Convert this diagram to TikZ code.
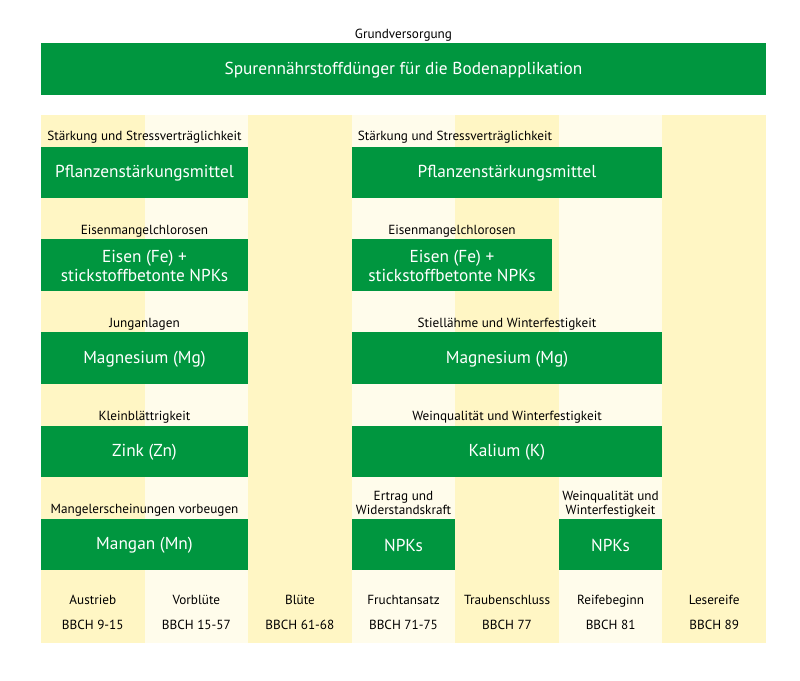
\documentclass[tikz,border=0pt]{standalone}
\usepackage{fontspec}
\setmainfont{PT Sans}
\definecolor{gr}{HTML}{00963F}
\definecolor{ye}{HTML}{FFF6C4}
\definecolor{lt}{HTML}{FFFCEB}
\begin{document}
\begin{tikzpicture}[x=1pt,y=-1pt,
  box/.style={fill=gr,draw=none,text=white,font=\fontsize{17.3}{19.5}\selectfont,align=center,inner sep=0pt},
  lbl/.style={font=\fontsize{13.2}{13.5}\selectfont,align=center,inner sep=0pt,anchor=base},
  phase/.style={font=\fontsize{13.2}{14}\selectfont,inner sep=0pt,anchor=base}]
\useasboundingbox (0,0) rectangle (800,680);
\fill[white] (0,0) rectangle (800,680);
% columns
\foreach \i/\c in {0/ye,1/lt,2/ye,3/lt,4/ye,5/lt,6/ye}{
  \fill[\c] ({41+\i*103.57},115) rectangle ({41+(\i+1)*103.57},643);
}
% top
\node[lbl] (tg) at (403.5,38.5) {Grundversorgung};
\fill[gr] (41,43) rectangle (766,95);
\node[box] (top) at (403.5,70) {Spurennährstoffdünger für die Bodenapplikation};
% left boxes
\fill[gr] (41,147) rectangle (248,198);
\node[box] (l1) at (144.5,173.5) {Pflanzenstärkungsmittel};
\node[lbl] (l1t) at (144.5,140.5) {Stärkung und Stressverträglichkeit};
\fill[gr] (41,239) rectangle (248,291);
\node[box] (l2) at (144.5,266) {Eisen (Fe) +\\stickstoffbetonte NPKs};
\node[lbl] (l2t) at (144.5,234) {Eisenmangelchlorosen};
\fill[gr] (41,332) rectangle (248,384);
\node[box] (l3) at (144.5,359) {Magnesium (Mg)};
\node[lbl] (l3t) at (144.5,327) {Junganlagen};
\fill[gr] (41,426) rectangle (248,477);
\node[box] (l4) at (144.5,452.5) {Zink (Zn)};
\node[lbl] (l4t) at (144.5,420.5) {Kleinblättrigkeit};
\fill[gr] (41,519) rectangle (248,570);
\node[box] (l5) at (144.5,545.5) {Mangan (Mn)};
\node[lbl] (l5t) at (144.5,513.5) {Mangelerscheinungen vorbeugen};
% right boxes
\fill[gr] (352,147) rectangle (662,198);
\node[box] (r1) at (507,173.5) {Pflanzenstärkungsmittel};
\node[lbl] (r1t) at (455,140.5) {Stärkung und Stressverträglichkeit};
\fill[gr] (352,239) rectangle (552,291);
\node[box] (r2) at (452,266) {Eisen (Fe) +\\stickstoffbetonte NPKs};
\node[lbl] (r2t) at (452,234) {Eisenmangelchlorosen};
\fill[gr] (352,332) rectangle (662,384);
\node[box] (r3) at (507,359) {Magnesium (Mg)};
\node[lbl] (r3t) at (507,327) {Stiellähme und Winterfestigkeit};
\fill[gr] (352,426) rectangle (662,477);
\node[box] (r4) at (507,452.5) {Kalium (K)};
\node[lbl] (r4t) at (507,420.5) {Weinqualität und Winterfestigkeit};
\fill[gr] (352,519) rectangle (455,570);
\node[box] (r5) at (403.5,545.5) {NPKs};
\node[lbl] (r5t) at (403.5,514) {Ertrag und\\Widerstandskraft};
\fill[gr] (559,519) rectangle (662,570);
\node[box] (r6) at (610.5,545.5) {NPKs};
\node[lbl] (r6t) at (610.5,514) {Weinqualität und\\Winterfestigkeit};
% phases
\foreach \i/\n/\b in {0/Austrieb/BBCH 9-15,1/Vorblüte/BBCH 15-57,2/Blüte/BBCH 61-68,3/Fruchtansatz/BBCH 71-75,4/Traubenschluss/BBCH 77,5/Reifebeginn/BBCH 81,6/Lesereife/BBCH 89}{
  \node[phase] (p\i) at ({41+(\i+0.5)*103.57},604.5) {\n};
  \node[phase] (b\i) at ({41+(\i+0.5)*103.57},629.5) {\b};
}
\end{tikzpicture}
\end{document}
